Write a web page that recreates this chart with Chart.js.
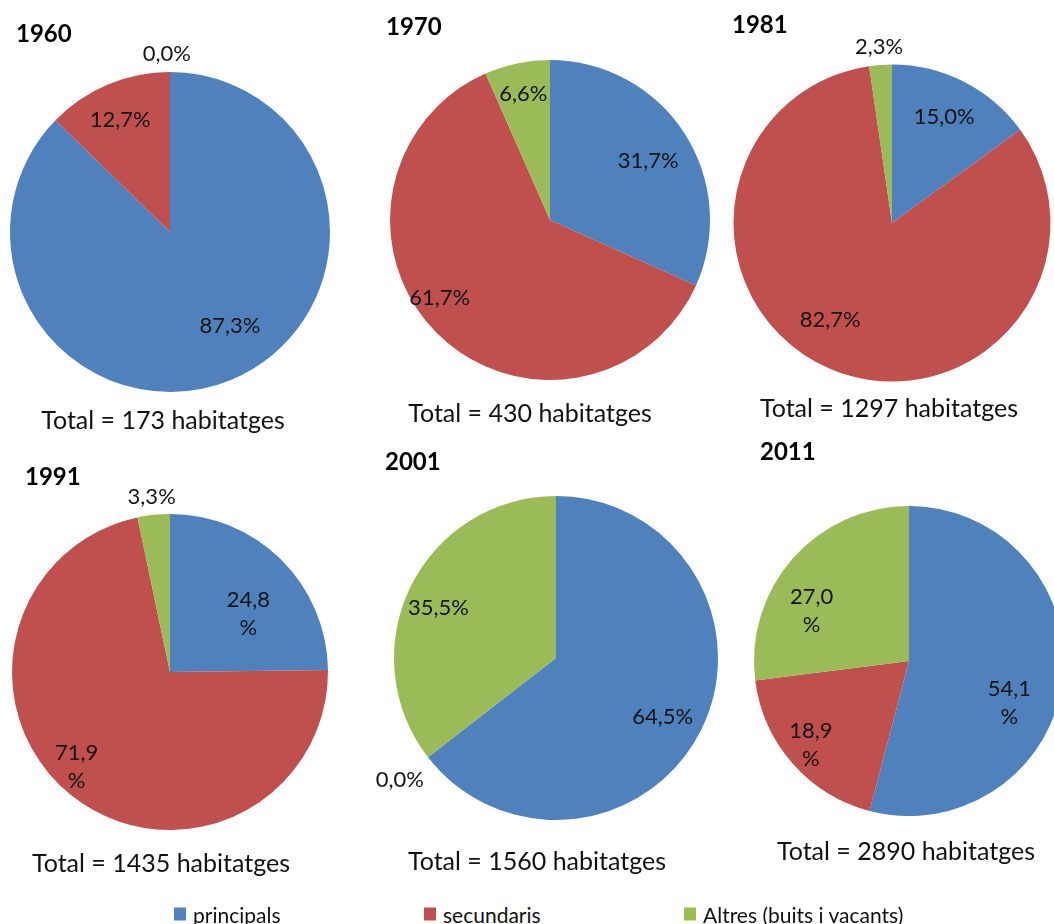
<!DOCTYPE html>
<html>
<head>
<meta charset="utf-8">
<title>Habitatges per tipus</title>
<script src="https://cdn.jsdelivr.net/npm/chart.js@4/dist/chart.umd.min.js"></script>
<style>
  html, body { margin: 0; padding: 0; background: #ffffff; }
  body { width: 1054px; height: 924px; overflow: hidden; position: relative; font-family: Lato, "Liberation Sans", sans-serif; color: #111; }
  canvas { position: absolute; pointer-events: none; }
  .year { position: absolute; font-weight: bold; font-size: 24px; line-height: 1; color: #000; transform: translateY(-50%); white-space: nowrap; }
  .total { position: absolute; font-size: 25px; line-height: 1; transform: translate(-50%, -50%); white-space: nowrap; }
  .legend-item { position: absolute; display: flex; align-items: center; font-size: 21px; line-height: 1; transform: translateY(-50%); white-space: nowrap; }
  .legend-item span.sw { display: inline-block; width: 12px; height: 13px; margin-right: 7px; }
</style>
</head>
<body>
<script>
// Habitatges segons tipus (percentatges), per any de cens
const years = ['1960', '1970', '1981', '1991', '2001', '2011'];
const totals = [173, 430, 1297, 1435, 1560, 2890];
const categories = ['principals', 'secundaris', 'Altres (buits i vacants)'];
const principals = [87.3, 31.7, 15.0, 24.8, 64.5, 54.1];
const secundaris = [12.7, 61.7, 82.7, 71.9, 0.0, 18.9];
const altres = [0.0, 6.6, 2.3, 3.3, 35.5, 27.0];

const colors = ['#4F81BD', '#C0504D', '#9BBB59'];

// Page layout of each pie: centre, radius, title and total-caption anchors
const layout = [
  { cx: 169.5, cy: 232,   r: 160,   title: [16, 33],   total: [163, 419] },
  { cx: 550,   cy: 220,   r: 160,   title: [386, 26],  total: [530, 412] },
  { cx: 891.5, cy: 222.5, r: 158.5, title: [732, 24],  total: [889, 407] },
  { cx: 169.5, cy: 672,   r: 158,   title: [25, 476],  total: [161, 862] },
  { cx: 556,   cy: 658,   r: 162,   title: [385, 461], total: [537, 860] },
  { cx: 909,   cy: 661,   r: 155,   title: [760, 451], total: [906, 850] }
];

// Label placement per slice: f = fraction of radius, da = angular shift (deg), wrap = split "%" onto its own line
const labelPlacement = [
  [{ f: 0.69, da: -10 }, { f: 0.77, da: -1 }, { f: 1.12, da: -1 }],
  [{ f: 0.72, da: 1.5 }, { f: 0.84, da: 10 }, { f: 0.81, da: 0 }],
  [{ f: 0.75, da: -1 },  { f: 0.72, da: 10 }, { f: 1.12, da: 0 }],
  [{ f: 0.62, da: 8.5, wrap: true }, { f: 0.84, da: 6, wrap: true }, { f: 1.12, da: 0 }],
  [{ f: 0.75, da: 2.4 }, { f: 1.22, da: 0 },  { f: 0.79, da: -2.7 }],
  [{ f: 0.70, da: 15, wrap: true }, { f: 0.83, da: 1, wrap: true }, { f: 0.71, da: -13.7, wrap: true }]
];

const fmtPct = v => v.toFixed(1).replace('.', ',') + '%';

// Draws each slice's percentage at a point derived from the arc geometry
const sliceLabels = {
  id: 'sliceLabels',
  afterDatasetsDraw(chart, args, opts) {
    const ctx = chart.ctx;
    const meta = chart.getDatasetMeta(0);
    const values = chart.data.datasets[0].data;
    ctx.save();
    ctx.font = opts.font;
    ctx.fillStyle = opts.color;
    ctx.textAlign = 'center';
    ctx.textBaseline = 'middle';
    meta.data.forEach((arc, i) => {
      const p = opts.place[i];
      const { x, y, startAngle, endAngle, outerRadius } =
        arc.getProps(['x', 'y', 'startAngle', 'endAngle', 'outerRadius'], true);
      const a = (startAngle + endAngle) / 2 + p.da * Math.PI / 180;
      const rr = outerRadius * p.f;
      const lx = x + Math.cos(a) * rr;
      const ly = y + Math.sin(a) * rr;
      const text = fmtPct(values[i]);
      const lines = p.wrap ? [text.slice(0, -1), '%'] : [text];
      const lh = opts.lineHeight;
      lines.forEach((ln, k) => {
        ctx.fillText(ln, lx, ly + (k - (lines.length - 1) / 2) * lh + opts.dy);
      });
    });
    ctx.restore();
  }
};

const S = 460; // canvas side for each pie

years.forEach((yr, i) => {
  const L = layout[i];
  const cv = document.createElement('canvas');
  cv.width = S; cv.height = S;
  cv.style.left = (L.cx - S / 2) + 'px';
  cv.style.top = (L.cy - S / 2) + 'px';
  cv.style.width = S + 'px'; cv.style.height = S + 'px';
  document.body.appendChild(cv);

  new Chart(cv, {
    type: 'pie',
    data: {
      labels: categories,
      datasets: [{
        data: [principals[i], secundaris[i], altres[i]],
        backgroundColor: colors,
        borderWidth: 0,
        hoverOffset: 0
      }]
    },
    options: {
      responsive: false,
      animation: false,
      events: [],
      layout: { padding: S / 2 - L.r },
      plugins: {
        legend: { display: false },
        tooltip: { enabled: false },
        title: { display: false },
        sliceLabels: {
          place: labelPlacement[i],
          font: '22px Lato, "Liberation Sans", sans-serif',
          color: '#141414',
          lineHeight: 28,
          dy: 1
        }
      }
    },
    plugins: [sliceLabels]
  });

  const t = document.createElement('div');
  t.className = 'year';
  t.textContent = yr;
  t.style.left = L.title[0] + 'px';
  t.style.top = L.title[1] + 'px';
  document.body.appendChild(t);

  const tot = document.createElement('div');
  tot.className = 'total';
  tot.textContent = 'Total = ' + totals[i] + ' habitatges';
  tot.style.left = L.total[0] + 'px';
  tot.style.top = L.total[1] + 'px';
  document.body.appendChild(tot);
});

// Shared legend along the bottom
const legendX = [174, 424, 684];
categories.forEach((c, k) => {
  const it = document.createElement('div');
  it.className = 'legend-item';
  it.style.left = legendX[k] + 'px';
  it.style.top = '914px';
  const sw = document.createElement('span');
  sw.className = 'sw';
  sw.style.background = colors[k];
  const tx = document.createElement('span');
  tx.textContent = c;
  it.appendChild(sw);
  it.appendChild(tx);
  document.body.appendChild(it);
});
</script>
</body>
</html>
